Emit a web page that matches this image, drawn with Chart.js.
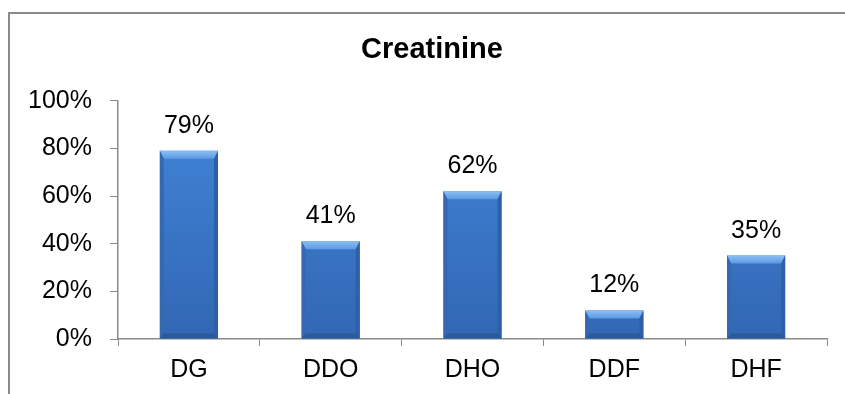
<!DOCTYPE html>
<html>
<head>
<meta charset="utf-8">
<script src="https://cdn.jsdelivr.net/npm/chart.js@4"></script>
<style>
  html, body { margin: 0; padding: 0; background: #fff; }
  #wrap { position: relative; width: 845px; height: 394px; overflow: hidden; background: #fff; }
  #frame { position: absolute; left: 8px; top: 12px; width: 900px; height: 500px; border: 2px solid #8a8a8a; }
  #chart { position: absolute; left: 0; top: 0; }
</style>
</head>
<body>
<div id="wrap">
  <div id="frame"></div>
  <canvas id="chart" width="845" height="394"></canvas>
</div>
<script>
// Creatinine share per group (%)
const categories = ['DG', 'DDO', 'DHO', 'DDF', 'DHF'];
const creatinine = [79, 41, 62, 12, 35];
const yTicks = [0, 20, 40, 60, 80, 100];

const FONT = '"Liberation Sans", Arial, sans-serif';

// Centre the title over the framed panel rather than the whole canvas
const titleCentre = {
  id: 'titleCentre',
  afterLayout(chart) {
    const t = chart.titleBlock;
    if (t) { t.left = 37; t.right = chart.chartArea.right; }
  }
};

// Bevelled bar faces plus the value label above each bar
const bevelAndLabels = {
  id: 'bevelAndLabels',
  afterDatasetsDraw(chart) {
    const ctx = chart.ctx;
    const meta = chart.getDatasetMeta(0);
    meta.data.forEach((bar, i) => {
      const L = bar.x - bar.width / 2;
      const R = bar.x + bar.width / 2;
      const T = bar.y;
      const B = bar.base;
      const tb = 8, s = 4, bb = 5;
      ctx.save();
      // top face
      const g = ctx.createLinearGradient(0, T, 0, T + tb);
      g.addColorStop(0, '#8cc0f4');
      g.addColorStop(1, '#5c99e2');
      ctx.fillStyle = g;
      ctx.beginPath();
      ctx.moveTo(L, T); ctx.lineTo(R, T); ctx.lineTo(R - s, T + tb); ctx.lineTo(L + s, T + tb);
      ctx.closePath(); ctx.fill();
      // left face
      ctx.fillStyle = '#3469b2';
      ctx.beginPath();
      ctx.moveTo(L, T); ctx.lineTo(L + s, T + tb); ctx.lineTo(L + s, B - bb); ctx.lineTo(L, B);
      ctx.closePath(); ctx.fill();
      // right face
      ctx.fillStyle = '#2e60a8';
      ctx.beginPath();
      ctx.moveTo(R, T); ctx.lineTo(R - s, T + tb); ctx.lineTo(R - s, B - bb); ctx.lineTo(R, B);
      ctx.closePath(); ctx.fill();
      // bottom face
      ctx.fillStyle = '#2b5a99';
      ctx.beginPath();
      ctx.moveTo(L, B); ctx.lineTo(L + s, B - bb); ctx.lineTo(R - s, B - bb); ctx.lineTo(R, B);
      ctx.closePath(); ctx.fill();
      // value label
      ctx.fillStyle = '#000';
      ctx.font = '25px ' + FONT;
      ctx.textAlign = 'center';
      ctx.textBaseline = 'alphabetic';
      ctx.fillText(creatinine[i] + '%', bar.x, T - 18);
      ctx.restore();
    });
  }
};

const ctx = document.getElementById('chart').getContext('2d');
new Chart(ctx, {
  type: 'bar',
  data: {
    labels: categories,
    datasets: [{
      data: creatinine,
      backgroundColor: (c) => {
        const area = c.chart.chartArea;
        if (!area) return '#3a77c9';
        const g = c.chart.ctx.createLinearGradient(0, area.top, 0, area.bottom);
        g.addColorStop(0, '#4286da');
        g.addColorStop(1, '#3267b4');
        return g;
      },
      borderWidth: 0,
      barPercentage: 0.41,
      categoryPercentage: 1.0
    }]
  },
  options: {
    responsive: false,
    animation: false,
    devicePixelRatio: 1,
    layout: { padding: { left: 0, right: 18, top: 0, bottom: 0 } },
    plugins: {
      legend: { display: false },
      tooltip: { enabled: false },
      title: {
        display: true,
        text: 'Creatinine',
        color: '#000',
        font: { family: FONT, size: 29, weight: 'bold' },
        padding: { top: 32.6, bottom: 33.3 }
      }
    },
    scales: {
      x: {
        grid: { display: true, drawOnChartArea: false, drawTicks: true, tickLength: 7, color: '#8a8a8a', offset: true },
        border: { display: true, color: '#8a8a8a', width: 1.5 },
        ticks: { color: '#000', font: { family: FONT, size: 25 }, padding: 9 }
      },
      y: {
        min: 0,
        max: 100,
        afterFit(scale) { scale.width = 118; },
        afterBuildTicks(scale) { scale.ticks = yTicks.map(v => ({ value: v })); },
        grid: { display: true, drawOnChartArea: false, drawTicks: true, tickLength: 8, color: '#8a8a8a' },
        border: { display: true, color: '#8a8a8a', width: 1.5 },
        ticks: { color: '#000', font: { family: FONT, size: 25 }, padding: 18, callback: (v) => v + '%' }
      }
    }
  },
  plugins: [titleCentre, bevelAndLabels]
});
</script>
</body>
</html>
